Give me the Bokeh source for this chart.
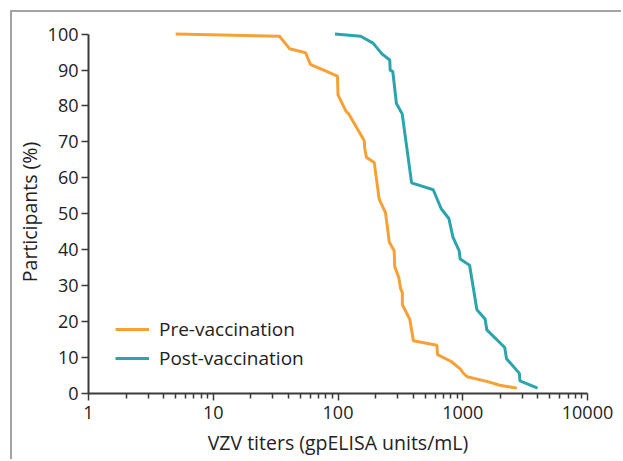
from bokeh.plotting import figure
from bokeh.models import (Range1d, FixedTicker, PrintfTickFormatter, SingleIntervalTicker,
                          Legend, LegendItem)
from bokeh.embed import file_html
from bokeh.resources import INLINE

# Data (VZV titers in gpELISA units/mL, % participants)
pre_titer = [5, 34, 41, 55, 60, 99, 100, 116, 122, 162, 164, 169, 195, 214, 240, 258, 282, 285,
             307, 318, 328, 328, 376, 402, 621, 628, 808, 959, 1000, 1084, 1586, 1978, 2718]
pre_pct = [100, 99.4, 95.9, 94.8, 91.6, 88.3, 83.1, 78.5, 77.8, 70.4, 68.1, 65.7, 64.3, 54.0,
           50.4, 42.1, 39.7, 35.3, 32.3, 29.1, 28.1, 24.7, 20.7, 14.7, 13.4, 10.8, 8.9, 6.8,
           5.85, 4.65, 3.3, 2.3, 1.5]

post_titer = [94.5, 152, 191, 225, 260, 262, 275, 294, 327, 389, 580, 672, 774, 834, 936, 953,
              1135, 1298, 1510, 1560, 2170, 2243, 2846, 2872, 3981]
post_pct = [100, 99.4, 97.5, 94.5, 92.8, 89.9, 89.6, 80.7, 77.8, 58.6, 56.7, 51.4, 48.7, 43.5,
            39.7, 37.4, 35.7, 23.3, 20.7, 17.7, 12.8, 9.7, 5.6, 3.5, 1.5]

series_names = ["Pre-vaccination", "Post-vaccination"]
series_colors = ["#F7A036", "#2BA5AD"]

x_major = [1, 10, 100, 1000, 10000]
x_minor = [m * d for d in [1, 10, 100, 1000] for m in range(2, 10)]

FONT = "Open Sans"
AX = "#3a3a3a"

p = figure(width=611, height=449, x_axis_type="log",
           x_range=Range1d(1, 10000), y_range=Range1d(0, 101),
           output_backend="svg", toolbar_location=None,
           min_border_left=74, min_border_right=36, min_border_top=18, min_border_bottom=68)
p.margin = (12, 0, 0, 12)
p.styles = {"box-shadow": "-2px -2px 0 0 #a3a3a3"}

r_pre = p.line(pre_titer, pre_pct, line_color=series_colors[0], line_width=3)
r_post = p.line(post_titer, post_pct, line_color=series_colors[1], line_width=3)

p.xgrid.visible = False
p.ygrid.visible = False
p.outline_line_color = None

xa = p.xaxis[0]
xa.ticker = FixedTicker(ticks=x_major, minor_ticks=x_minor)
xa.formatter = PrintfTickFormatter(format="%d")
xa.axis_label = "VZV titers (gpELISA units/mL)"

ya = p.yaxis[0]
ya.ticker = SingleIntervalTicker(interval=10, num_minor_ticks=0)
ya.bounds = (0, 100)
ya.axis_label = "Participants (%)"

for ax in (xa, ya):
    ax.axis_line_color = AX
    ax.axis_line_width = 2
    ax.major_tick_line_color = AX
    ax.major_tick_line_width = 1.5
    ax.major_tick_out = 7
    ax.major_tick_in = 0
    ax.minor_tick_line_color = AX
    ax.minor_tick_line_width = 1.5
    ax.minor_tick_out = 5
    ax.minor_tick_in = 0
    ax.major_label_text_font = FONT
    ax.major_label_text_font_size = "18px"
    ax.major_label_text_color = "#222222"
    ax.axis_label_text_font = FONT
    ax.axis_label_text_font_size = "19.5px"
    ax.axis_label_text_font_style = "normal"
    ax.axis_label_text_color = "#222222"
ya.major_label_standoff = 3
ya.axis_label_standoff = 2
xa.major_label_standoff = 5
xa.axis_label_standoff = 7

legend = Legend(items=[LegendItem(label=series_names[0], renderers=[r_pre]),
                       LegendItem(label=series_names[1], renderers=[r_post])],
                location=(27, 22), padding=0, margin=0, spacing=3,
                glyph_width=34, glyph_height=20, label_height=20, label_standoff=10,
                border_line_color=None, background_fill_alpha=0,
                label_text_font=FONT, label_text_font_size="19px", label_text_color="#222222")
p.add_layout(legend)

open("out.html", "w").write(file_html(p, INLINE))
